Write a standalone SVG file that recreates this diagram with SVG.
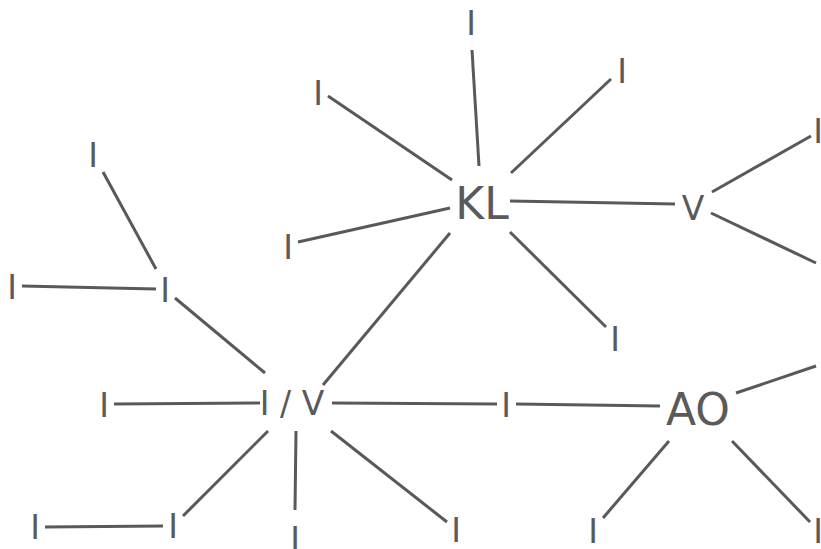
<svg xmlns="http://www.w3.org/2000/svg" width="821" height="549" viewBox="0 0 821 549">
<style>
.e{stroke:#595959;stroke-width:3;fill:none}
text{font-family:"DejaVu Sans",sans-serif;fill:#5a5a5a;text-anchor:middle}
.s{font-size:33px}
.b{font-size:44px}
</style>
<rect width="821" height="549" fill="#fff"/>
<g id="edges">
<line class="e" x1="479" y1="166" x2="472" y2="50"/>
<line class="e" x1="511" y1="173" x2="611" y2="79"/>
<line class="e" x1="510" y1="201" x2="675" y2="204"/>
<line class="e" x1="712" y1="192" x2="811" y2="136"/>
<line class="e" x1="711" y1="213" x2="816" y2="263"/>
<line class="e" x1="510" y1="232" x2="606" y2="327"/>
<line class="e" x1="452" y1="180" x2="328" y2="96"/>
<line class="e" x1="450" y1="208" x2="298" y2="242"/>
<line class="e" x1="450" y1="233" x2="323" y2="385"/>
<line class="e" x1="103" y1="172" x2="156" y2="269"/>
<line class="e" x1="22" y1="286" x2="156" y2="289"/>
<line class="e" x1="175" y1="298" x2="265" y2="373"/>
<line class="e" x1="114" y1="404" x2="260" y2="403"/>
<line class="e" x1="332" y1="403" x2="497" y2="404"/>
<line class="e" x1="516" y1="404" x2="660" y2="406"/>
<line class="e" x1="268" y1="431" x2="183" y2="516"/>
<line class="e" x1="45" y1="527" x2="163" y2="526"/>
<line class="e" x1="296" y1="431" x2="295" y2="510"/>
<line class="e" x1="331" y1="431" x2="447" y2="522"/>
<line class="e" x1="736" y1="393" x2="816" y2="366"/>
<line class="e" x1="669" y1="441" x2="603" y2="518"/>
<line class="e" x1="732" y1="441" x2="810" y2="522"/>
</g>
<g id="n-kl"><text class="b" x="482" y="219">KL</text></g>
<g id="n-kl-top"><text class="s" x="471" y="35">I</text></g>
<g id="n-kl-tr"><text class="s" x="622" y="83">I</text></g>
<g id="n-kl-tl"><text class="s" x="318" y="105">I</text></g>
<g id="n-kl-l"><text class="s" x="288" y="259">I</text></g>
<g id="n-kl-br"><text class="s" x="615" y="351">I</text></g>
<g id="n-v"><text class="s" x="693" y="220">V</text></g>
<g id="n-v-tr"><text class="s" x="818" y="143">I</text></g>
<g id="n-a"><text class="s" x="93" y="167">I</text></g>
<g id="n-b"><text class="s" x="12" y="299">I</text></g>
<g id="n-c"><text class="s" x="165" y="302">I</text></g>
<g id="n-iv"><text class="s" x="292" y="415">I / V</text></g>
<g id="n-ivl"><text class="s" x="104" y="417">I</text></g>
<g id="n-ivbl"><text class="s" x="173" y="538">I</text></g>
<g id="n-fbl"><text class="s" x="35" y="539">I</text></g>
<g id="n-ivbm"><text class="s" x="295" y="551">I</text></g>
<g id="n-ivbr"><text class="s" x="456" y="542">I</text></g>
<g id="n-mid"><text class="s" x="506" y="417">I</text></g>
<g id="n-ao"><text class="b" x="698" y="425">AO</text></g>
<g id="n-aobl"><text class="s" x="593" y="543">I</text></g>
<g id="n-aobr"><text class="s" x="818" y="543">I</text></g>
</svg>
